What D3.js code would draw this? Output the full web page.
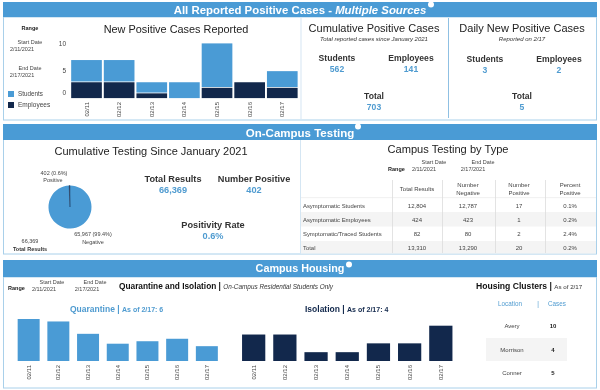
<!DOCTYPE html>
<html><head><meta charset="utf-8">
<script src="https://cdn.jsdelivr.net/npm/d3@7"></script>
<style>
html,body{margin:0;padding:0;background:#fff}
svg{display:block;filter:blur(0.3px);font-family:"Liberation Sans",Arial,sans-serif}
</style></head><body><svg id="c" width="600" height="390"></svg>
<script>
const dates=["02/11","02/12","02/13","02/14","02/15","02/16","02/17"];
const students=[4,4,2,3,8,0,3];
const employees=[3,3,1,0,2,3,2];
const quarantine=[17,16,11,7,8,9,6];
const isolation=[3,3,1,1,2,2,4];
const caseTicks=[0,5,10];
const pieLabels=["Positive","Negative"];
const pieValues=[402,65967];
const tableHeaders=[["Total Results"],["Number","Negative"],["Number","Positive"],["Percent","Positive"]];
const tableRows=[
 ["Asymptomatic Students","12,804","12,787","17","0.1%"],
 ["Asymptomatic Employees","424","423","1","0.2%"],
 ["Symptomatic/Traced Students","82","80","2","2.4%"],
 ["Total","13,310","13,290","20","0.2%"]];
const clusterNames=["Avery","Morrison","Conner"];
const clusterCases=[10,4,5];

const BLUE="#4a9bd5",NAVY="#12284c",EDGE="#a9d0ea",GREY="#444",LBL="#4f9bd0";
const svg=d3.select("#c");
const T=(x,y,s,o={})=>svg.append("text").attr("x",x).attr("y",y).text(s)
  .attr("text-anchor",o.a||"middle").attr("font-size",o.s||6).attr("font-weight",o.b?"bold":"normal")
  .attr("font-style",o.i?"italic":"normal").attr("fill",o.c||GREY);
const R=(x,y,w,h,f,st)=>svg.append("rect").attr("x",x).attr("y",y).attr("width",w).attr("height",h).attr("fill",f).attr("stroke",st||"none");

// panels
[[17,103],[139,115],[277,111]].forEach(([y,h])=>R(3.5,y,593,h,"#fff",EDGE));
[[2,15],[124,16],[260,17]].forEach(([y,h])=>R(3,y,594,h,BLUE));
const info=(x,y)=>{svg.append("circle").attr("cx",x).attr("cy",y).attr("r",3).attr("fill","#fff");};

// headers
const h1=T(300,14,"",{s:11.4,b:1,c:"#fff"});
h1.append("tspan").text("All Reported Positive Cases - ");
h1.append("tspan").attr("font-style","italic").text("Multiple Sources");
info(431,4.5);
T(300,136.7,"On-Campus Testing",{s:11.5,b:1,c:"#fff"}); info(358,126.5);
T(300,272,"Campus Housing",{s:10.8,b:1,c:"#fff"}); info(349,264.5);

// dividers
R(300.5,18,1,101,"#d5e6f3");R(448,18,1,100,"#8fc0e3");
R(300,140,1,113,"#d5e6f3");

// stacked chart
T(30,30,"Range",{s:5.5,b:1,c:"#222"});
T(30,44,"Start Date",{s:5.5});T(22,51,"2/11/2021",{s:5.5});
T(30,70,"End Date",{s:5.5});T(22,77,"2/17/2021",{s:5.5});
R(8,91,6,6,BLUE);R(8,102,6,6,NAVY);
T(18,96,"Students",{s:6.3,a:"start"});T(18,107,"Employees",{s:6.5,a:"start"});
T(176,33,"New Positive Cases Reported",{s:10.9,c:"#222"});

const x1=d3.scaleBand().domain(dates).range([70.2,298.6]).paddingInner(0.06).paddingOuter(0.03);
const y1=d3.scaleLinear().domain([0,10]).range([98.5,43]);
const stackData=dates.map((d,i)=>({d,students:students[i],employees:employees[i]}));
const layers=d3.stack().keys(["employees","students"])(stackData);
svg.append("g").selectAll("g").data(layers).join("g").attr("fill",d=>d.key==="students"?BLUE:NAVY)
  .selectAll("rect").data(d=>d.filter(e=>e[1]>e[0])).join("rect")
  .attr("x",d=>x1(d.data.d)).attr("width",x1.bandwidth())
  .attr("y",d=>y1(d[1])+0.4).attr("height",d=>y1(d[0])-y1(d[1])-0.8);
const ax1=svg.append("g").attr("transform","translate(68,0)")
  .call(d3.axisLeft(y1).tickValues(caseTicks).tickSize(0).tickPadding(2));
ax1.select(".domain").remove();
ax1.selectAll("text").attr("font-size",6.5).attr("font-family","inherit").attr("fill",GREY)
  .attr("dy",d=>d===0?"-0.55em":"0.32em");
const dateAxis=(x,yTop)=>{
  const g=svg.append("g").attr("transform",`translate(0,${yTop})`)
    .call(d3.axisBottom(x).tickSize(0).tickPadding(0));
  g.select(".domain").remove();
  g.selectAll("text").attr("font-size",6).attr("font-family","inherit").attr("fill",GREY)
    .attr("text-anchor","end").attr("dy",0).attr("y",0)
    .attr("transform","rotate(-90) translate(0,2)");
};
dateAxis(x1,102);

// KPI blocks
const kpi=(x,y,name,val,s=8.6)=>{T(x,y,name,{s,b:1,c:"#333"});T(x,y+10.5,val,{s,b:1,c:LBL});};
T(374,32,"Cumulative Positive Cases",{s:11,c:"#222"});
T(374,41,"Total reported cases since January 2021",{s:6,i:1,c:"#333"});
kpi(337,61,"Students","562");kpi(411,61,"Employees","141");kpi(374,99,"Total","703");
T(522,32,"Daily New Positive Cases",{s:11,c:"#222"});
T(522,41,"Reported on 2/17",{s:6,i:1,c:"#333"});
kpi(485,62,"Students","3");kpi(559,62,"Employees","2");kpi(522,99,"Total","5");

// pie
T(151,155,"Cumulative Testing Since January 2021",{s:11,c:"#222"});
const pie=d3.pie().sort(null).startAngle(-0.04).endAngle(2*Math.PI-0.04)(pieValues);
const arc=d3.arc().innerRadius(0).outerRadius(21.5);
svg.append("g").attr("transform","translate(70,207)").selectAll("path").data(pie).join("path")
  .attr("d",arc).attr("fill",(d,i)=>i===0?NAVY:BLUE)
  .attr("stroke",(d,i)=>i===0?NAVY:"none").attr("stroke-width",0.4)
  .filter((d,i)=>i===0).raise();
T(54,175,"402 (0.6%)",{s:5.5});T(53,182,pieLabels[0],{s:5.5});
T(93,236,"65,967 (99.4%)",{s:5.5});T(93,243.5,pieLabels[1],{s:5.5});
T(30,243,"66,369",{s:5.5});T(30,251,"Total Results",{s:5.5,b:1,c:"#333"});
kpi(173,182,"Total Results","66,369",9.2);kpi(254,182,"Number Positive","402",9.2);
kpi(213,228,"Positivity Rate","0.6%",9.2);

// table
T(448,153,"Campus Testing by Type",{s:11.1,c:"#222"});
T(388,171,"Range",{s:5.5,b:1,c:"#222",a:"start"});
T(434,164,"Start Date",{s:5.5});T(424,171,"2/11/2021",{s:5.5});
T(483,164,"End Date",{s:5.5});T(473,171,"2/17/2021",{s:5.5});
const colX=[417,468,519,570],rowY=[198,212,226.5,240.5];
R(301,212,295,14.5,"#f4f4f4");R(301,241,295,12.5,"#f4f4f4");
R(301,197.5,295,.6,"#e6e6e6");
[392,442,495,545].forEach(x=>R(x,180,.8,73,"#dcdcdc"));
tableHeaders.forEach((h,i)=>{
  if(h.length===1)T(colX[i],190.5,h[0],{s:6});
  else{T(colX[i],187,h[0],{s:6});T(colX[i],194.5,h[1],{s:6});}
});
tableRows.forEach((r,i)=>r.forEach((c,j)=>{
  if(j===0)T(303,rowY[i]+9.5,c,{s:5.9,a:"start"});
  else T(colX[j-1],rowY[i]+9.5,c,{s:6});
}));

// housing
T(8,290,"Range",{s:5.5,b:1,c:"#222",a:"start"});
T(52,284,"Start Date",{s:5.5});T(44,291,"2/11/2021",{s:5.5});
T(95,284,"End Date",{s:5.5});T(87,291,"2/17/2021",{s:5.5});
const qi=T(119,289,"",{s:8.3,a:"start",c:"#111"});
qi.append("tspan").attr("font-weight","bold").text("Quarantine and Isolation | ");
qi.append("tspan").attr("font-style","italic").attr("font-size",6.4).attr("fill","#333").text("On-Campus Residential Students Only");
const qt=T(70,312,"",{s:8.5,b:1,a:"start",c:LBL});
qt.append("tspan").text("Quarantine | ");qt.append("tspan").attr("font-size",7).text("As of 2/17: 6");
const it=T(305,312,"",{s:8.5,b:1,a:"start",c:NAVY});
it.append("tspan").text("Isolation | ");it.append("tspan").attr("font-size",7).text("As of 2/17: 4");

const xq=d3.scaleBand().domain(dates).range([13.8,221.7]).paddingInner(0.26).paddingOuter(0.13);
const yq=d3.scaleLinear().domain([0,17]).range([361,319]);
svg.append("g").selectAll("rect").data(quarantine).join("rect")
  .attr("x",(d,i)=>xq(dates[i])).attr("width",xq.bandwidth())
  .attr("y",d=>yq(d)).attr("height",d=>361-yq(d)).attr("fill",BLUE);
const xi=d3.scaleBand().domain(dates).range([238,456.5]).paddingInner(0.255).paddingOuter(0.13);
const yi=d3.scaleLinear().domain([0,4]).range([361,325.7]);
svg.append("g").selectAll("rect").data(isolation).join("rect")
  .attr("x",(d,i)=>xi(dates[i])).attr("width",xi.bandwidth())
  .attr("y",d=>yi(d)).attr("height",d=>361-yi(d)).attr("fill",NAVY);
dateAxis(xq,365);dateAxis(xi,365);

// clusters
const hc=T(476,289,"",{s:8.6,a:"start",c:"#111"});
hc.append("tspan").attr("font-weight","bold").text("Housing Clusters | ");
hc.append("tspan").attr("font-size",6.2).attr("fill","#333").text("As of 2/17");
T(510,306,"Location",{s:6.3,c:LBL});T(538,306,"|",{s:6.3,c:LBL});T(557,306,"Cases",{s:6.3,c:LBL});
R(486,338,81,23,"#f4f4f4");
clusterNames.forEach((n,i)=>{
  const y=[328,352,375][i];
  T(512,y,n,{s:6});T(553,y,clusterCases[i],{s:6,b:1,c:"#222"});
});
</script></body></html>
